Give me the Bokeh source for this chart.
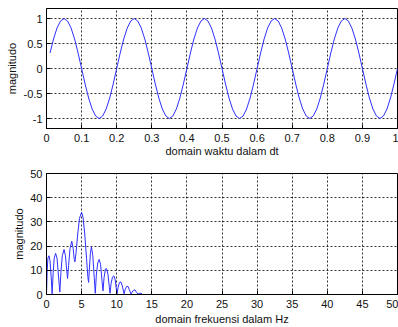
from bokeh.plotting import figure
from bokeh.layouts import column
from bokeh.models import Range1d, FixedTicker
from bokeh.embed import file_html
from bokeh.resources import INLINE

# ---- top panel: time domain ----
t = [0.01, 0.02, 0.03, 0.04, 0.05, 0.06, 0.07, 0.08, 0.09, 0.10,
     0.11, 0.12, 0.13, 0.14, 0.15, 0.16, 0.17, 0.18, 0.19, 0.20,
     0.21, 0.22, 0.23, 0.24, 0.25, 0.26, 0.27, 0.28, 0.29, 0.30,
     0.31, 0.32, 0.33, 0.34, 0.35, 0.36, 0.37, 0.38, 0.39, 0.40,
     0.41, 0.42, 0.43, 0.44, 0.45, 0.46, 0.47, 0.48, 0.49, 0.50,
     0.51, 0.52, 0.53, 0.54, 0.55, 0.56, 0.57, 0.58, 0.59, 0.60,
     0.61, 0.62, 0.63, 0.64, 0.65, 0.66, 0.67, 0.68, 0.69, 0.70,
     0.71, 0.72, 0.73, 0.74, 0.75, 0.76, 0.77, 0.78, 0.79, 0.80,
     0.81, 0.82, 0.83, 0.84, 0.85, 0.86, 0.87, 0.88, 0.89, 0.90,
     0.91, 0.92, 0.93, 0.94, 0.95, 0.96, 0.97, 0.98, 0.99, 1.00]
amp = [0.31, 0.59, 0.81, 0.95, 1.0, 0.95, 0.81, 0.59, 0.31, 0.0,
       -0.31, -0.59, -0.81, -0.95, -1.0, -0.95, -0.81, -0.59, -0.31, 0.0,
       0.31, 0.59, 0.81, 0.95, 1.0, 0.95, 0.81, 0.59, 0.31, 0.0,
       -0.31, -0.59, -0.81, -0.95, -1.0, -0.95, -0.81, -0.59, -0.31, 0.0,
       0.31, 0.59, 0.81, 0.95, 1.0, 0.95, 0.81, 0.59, 0.31, 0.0,
       -0.31, -0.59, -0.81, -0.95, -1.0, -0.95, -0.81, -0.59, -0.31, 0.0,
       0.31, 0.59, 0.81, 0.95, 1.0, 0.95, 0.81, 0.59, 0.31, 0.0,
       -0.31, -0.59, -0.81, -0.95, -1.0, -0.95, -0.81, -0.59, -0.31, 0.0,
       0.31, 0.59, 0.81, 0.95, 1.0, 0.95, 0.81, 0.59, 0.31, 0.0,
       -0.31, -0.59, -0.81, -0.95, -1.0, -0.95, -0.81, -0.59, -0.31, 0.0]

top_xticks = [0, 0.1, 0.2, 0.3, 0.4, 0.5, 0.6, 0.7, 0.8, 0.9, 1]
top_xlabels = ["0", "0.1", "0.2", "0.3", "0.4", "0.5", "0.6", "0.7", "0.8", "0.9", "1"]
top_yticks = [-1, -0.5, 0, 0.5, 1]
top_ylabels = ["-1", "-0.5", "0", "0.5", "1"]

# ---- bottom panel: frequency domain ----
freq = [0.0, 0.1, 0.2, 0.35, 0.5, 0.65, 0.8,
        0.95, 1.1, 1.3, 1.5, 1.7, 1.9,
        2.05, 2.25, 2.5, 2.7, 2.85, 3.0,
        3.15, 3.35, 3.6, 3.8, 3.95, 4.05,
        4.2, 4.45, 4.7, 5.0, 5.2, 5.45, 5.7, 5.9, 6.0,
        6.1, 6.25, 6.4, 6.6, 6.8, 6.95,
        7.1, 7.3, 7.5, 7.7, 7.9, 8.05,
        8.2, 8.4, 8.55, 8.75, 8.95, 9.05,
        9.2, 9.4, 9.6, 9.8, 9.95, 10.05,
        10.2, 10.4, 10.6, 10.8, 11.05,
        11.2, 11.4, 11.6, 11.8, 12.05,
        12.2, 12.4, 12.6, 12.8, 13.05,
        13.3, 13.5, 13.7, 50.0]
mag = [0.0, 10.0, 15.0, 16.0, 14.0, 8.0, 0.3,
       9.0, 15.0, 17.0, 15.0, 8.0, 1.0,
       9.0, 16.0, 18.6, 16.0, 11.0, 6.6,
       12.0, 19.0, 22.0, 19.0, 14.5, 13.5,
       17.0, 25.0, 31.5, 34.0, 32.0, 25.0, 15.0, 7.0, 5.0,
       10.0, 17.0, 19.7, 16.0, 7.0, 0.5,
       8.0, 13.0, 14.5, 12.5, 6.0, 1.5,
       7.0, 10.5, 10.7, 8.5, 3.0, 0.5,
       4.5, 7.2, 7.7, 6.0, 2.0, 0.3,
       3.0, 5.0, 5.2, 3.5, 0.3,
       2.0, 3.3, 3.4, 2.0, 0.2,
       1.0, 1.8, 1.9, 1.0, 0.2,
       0.5, 0.5, 0.0, 0.0]

bot_xticks = [0, 5, 10, 15, 20, 25, 30, 35, 40, 45, 50]
bot_yticks = [0, 10, 20, 30, 40, 50]

FONT = "Liberation Sans"


def style(p, xt, yt, xlab=None, ylab=None, ylabel_standoff=2,
          xtick_standoff=5, xlabel_standoff=3):
    p.xaxis.ticker = FixedTicker(ticks=xt)
    p.yaxis.ticker = FixedTicker(ticks=yt)
    if xlab:
        p.xaxis.major_label_overrides = dict(zip(xt, xlab))
    if ylab:
        p.yaxis.major_label_overrides = dict(zip(yt, ylab))
    for ax in (p.xaxis, p.yaxis):
        ax.major_tick_in = 4
        ax.major_tick_out = 0
        ax.minor_tick_line_color = None
        ax.axis_line_color = "black"
        ax.major_tick_line_color = "black"
        ax.major_label_text_font = FONT
        ax.major_label_text_font_size = "11px"
        ax.major_label_text_color = "#111111"
        ax.major_label_standoff = 4
        ax.axis_label_text_font = FONT
        ax.axis_label_text_font_size = "11px"
        ax.axis_label_text_font_style = "normal"
        ax.axis_label_text_color = "#111111"
    p.xaxis.major_label_standoff = xtick_standoff
    p.xaxis.axis_label_standoff = xlabel_standoff
    p.yaxis.axis_label_standoff = ylabel_standoff
    p.grid.grid_line_color = "black"
    p.grid.grid_line_dash = "2 2"
    p.grid.grid_line_alpha = 0.8
    p.outline_line_color = "black"
    p.outline_line_alpha = 1.0
    p.background_fill_color = "white"
    p.border_fill_color = "white"


p1 = figure(width=398, height=165, output_backend="svg", toolbar_location=None,
            x_range=Range1d(0, 1), y_range=Range1d(-1.2, 1.2),
            min_border_left=46, min_border_right=1, min_border_top=8, min_border_bottom=37)
p1.line(t, amp, line_color="#3030ff", line_width=1)
p1.xaxis.axis_label = "domain waktu dalam dt"
p1.yaxis.axis_label = "magnitudo"
style(p1, top_xticks, top_yticks, top_xlabels, top_ylabels, ylabel_standoff=3,
      xtick_standoff=5, xlabel_standoff=0)

p2 = figure(width=398, height=162, output_backend="svg", toolbar_location=None,
            x_range=Range1d(0, 50), y_range=Range1d(0, 50),
            min_border_left=46, min_border_right=1, min_border_top=8, min_border_bottom=33)
p2.line(freq, mag, line_color="#3030ff", line_width=1)
p2.xaxis.axis_label = "domain frekuensi dalam Hz"
p2.yaxis.axis_label = "magnitudo"
style(p2, bot_xticks, bot_yticks, ylabel_standoff=2,
      xtick_standoff=5, xlabel_standoff=2)

layout = column(p1, p2, spacing=0)
open("out.html", "w").write(file_html(layout, INLINE))
